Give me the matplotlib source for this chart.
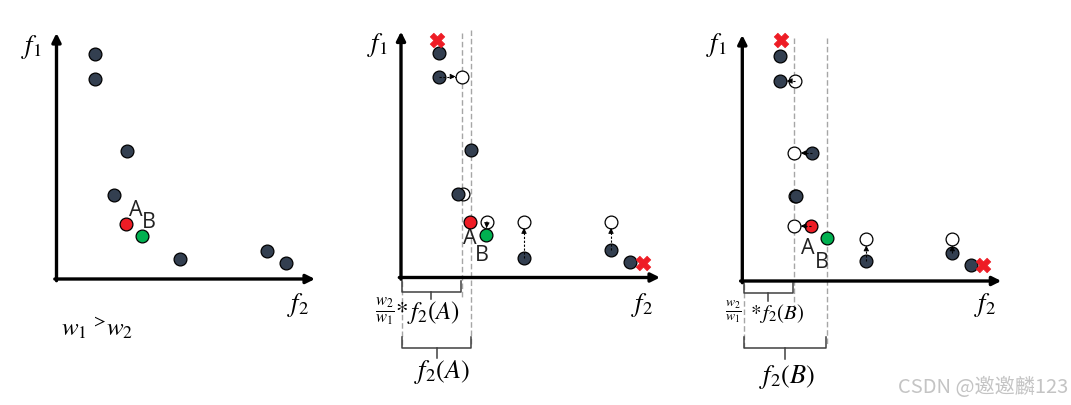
import matplotlib
matplotlib.use("Agg")
import matplotlib.pyplot as plt
import math

plt.rcParams['mathtext.fontset'] = 'stix'

W, H = 1071, 405
DARK = '#333F50'
RED = '#EE1C25'
GREEN = '#00B050'
GRAY = '#A6A6A6'

# ---------------- data (f2, f1) in diagram units ----------------
dark_f2 = [38, 38, 70, 57, 123, 210, 229]
dark_f1 = [225, 200, 128, 84, 20, 28, 16]
A_pt = (69, 55)
B_pt = (85, 43)

# panel 2 (A as reference)
p2_dark_f2 = [38, 38, 70, 57, 123, 210, 229]
p2_dark_f1 = [225, 201, 128, 84, 20, 28, 16]
p2_open_f2 = [61, 62, 86, 123, 210]
p2_open_f1 = [201, 84, 56, 56, 56]
p2_cross_f2 = [36, 242]
p2_cross_f1 = [238, 15]
p2_arrows = [((38, 201), (61, 201)), ((86, 56), (85, 43)),
             ((123, 20), (123, 56)), ((210, 28), (210, 56))]
p2_vlines = [61, 70]

# panel 3 (B as reference)
p3_dark_f2 = [38, 38, 70, 54, 124, 210, 229]
p3_dark_f1 = [225, 200, 128, 85, 20, 28, 16]
p3_open_f2 = [53, 52, 53, 52, 124, 210]
p3_open_f1 = [200, 128, 85, 55, 42, 42]
p3_cross_f2 = [39, 241]
p3_cross_f1 = [241, 16]
p3_arrows = [((53, 200), (38, 200)), ((70, 128), (52, 128)),
             ((69, 55), (52, 55)), ((124, 20), (124, 42)), ((210, 28), (210, 42))]
p3_vlines = [52, 84.5]

origins = [(56.5, 279), (401, 277.5), (742.3, 281)]

fig = plt.figure(figsize=(W / 100, H / 100), dpi=100)
fig.patch.set_facecolor('white')


def panel_axes(ox, oy):
    ax = fig.add_axes([0, 0, 1, 1])
    ax.set_xlim(-ox, W - ox)
    ax.set_ylim(-(H - oy), oy)
    ax.axis('off')
    ax.patch.set_alpha(0)
    return ax


def draw_axes(ax, xtip=259, ytip=246):
    ap = dict(arrowstyle='-|>', lw=2.4, color='black', mutation_scale=13,
              shrinkA=0, shrinkB=0)
    ax.annotate('', xy=(0, ytip), xytext=(0, -1.7), arrowprops=ap, zorder=5)
    ax.annotate('', xy=(xtip, 0), xytext=(-1.7, 0), arrowprops=ap, zorder=5)


MS = 85
R = 6.5


def dots(ax, f2, f1, color, z=6):
    ax.scatter(f2, f1, s=MS, c=color, edgecolors='black', linewidths=0.9, zorder=z)


def crosses(ax, f2, f1):
    ax.scatter(f2, f1, s=110, marker='X', c=RED, edgecolors=RED, linewidths=0.5, zorder=8)


def arrow(ax, s, e):
    dx, dy = e[0] - s[0], e[1] - s[1]
    L = math.hypot(dx, dy)
    ux, uy = dx / L, dy / L
    end = (e[0] - ux * R, e[1] - uy * R)
    ax.plot([s[0], end[0]], [s[1], end[1]], ls=(0, (2, 1.5)), color='black', lw=0.8, zorder=9)
    ax.annotate('', xy=end, xytext=(end[0] - ux * 3, end[1] - uy * 3),
                arrowprops=dict(arrowstyle='-|>', lw=0.6, color='black', mutation_scale=8,
                                shrinkA=0, shrinkB=0), zorder=9)


def bracket(ax, x0, x1, y, up, down, xm=None, color='#404040'):
    if xm is None:
        xm = (x0 + x1) / 2
    ax.plot([x0, x0, x1, x1], [y + up, y, y, y + up], color=color, lw=1.1, zorder=4)
    ax.plot([xm, xm], [y, y - down], color=color, lw=1.1, zorder=4)


def labels(ax, f1pos, f2pos):
    ax.text(*f1pos, r'$f_1$', fontsize=19, ha='center', va='center')
    ax.text(*f2pos, r'$f_2$', fontsize=19, ha='center', va='center')


def letter(ax, x, y, s):
    ax.text(x, y, s, fontsize=15.5, family='Open Sans', color='#222222',
            ha='center', va='center')


# ---------------- panel 1 ----------------
ax1 = panel_axes(*origins[0])
draw_axes(ax1, xtip=258.5)
dots(ax1, dark_f2, dark_f1, DARK)
dots(ax1, [A_pt[0]], [A_pt[1]], RED)
dots(ax1, [B_pt[0]], [B_pt[1]], GREEN)
labels(ax1, (-25, 232), (241.5, -26))
letter(ax1, 79, 68, 'A')
letter(ax1, 92.5, 56, 'B')
ax1.text(41, -49, r'$w_1\,{}^{>}\!w_2$', fontsize=18, ha='center', va='center')

# ---------------- panel 2 ----------------
ax2 = panel_axes(*origins[1])
draw_axes(ax2)
ax2.plot([p2_vlines[0]] * 2, [244.5, -19], ls=(0, (4, 2)), color=GRAY, lw=1, zorder=1)
ax2.plot([p2_vlines[1]] * 2, [247.5, -67.5], ls=(0, (4, 2)), color=GRAY, lw=1, zorder=1)
ax2.plot([1, 1], [-3, -68], ls=(0, (4, 2)), color=GRAY, lw=1, zorder=1)
dots(ax2, p2_open_f2, p2_open_f1, 'white', z=5)
dots(ax2, p2_dark_f2, p2_dark_f1, DARK)
dots(ax2, [A_pt[0]], [A_pt[1] + 1], RED)
dots(ax2, [B_pt[0]], [B_pt[1]], GREEN)
crosses(ax2, p2_cross_f2, p2_cross_f1)
for s, e in p2_arrows:
    arrow(ax2, s, e)
labels(ax2, (-24, 232.5), (241, -27.5))
letter(ax2, 69, 38.5, 'A')
letter(ax2, 81, 22, 'B')
bracket(ax2, 1, 60, -14, 11, 7.5, xm=30)
bracket(ax2, 1, 70, -70.5, 11, 10, xm=36)
ax2.text(-16, -34, r'$\frac{w_2}{w_1}$', fontsize=17, ha='center', va='center')
ax2.text(27, -35.5, r'$*\,f_2(A)$', fontsize=18, ha='center', va='center')
ax2.text(41, -94.5, r'$f_2(A)$', fontsize=19, ha='center', va='center')

# ---------------- panel 3 ----------------
ax3 = panel_axes(*origins[2])
draw_axes(ax3)
ax3.plot([p3_vlines[0]] * 2, [243, -29], ls=(0, (4, 2)), color=GRAY, lw=1, zorder=1)
ax3.plot([p3_vlines[1]] * 2, [243, -65], ls=(0, (4, 2)), color=GRAY, lw=1, zorder=1)
ax3.plot([2, 2], [-3, -67], ls=(0, (4, 2)), color=GRAY, lw=1, zorder=1)
dots(ax3, p3_open_f2, p3_open_f1, 'white', z=5)
dots(ax3, p3_dark_f2, p3_dark_f1, DARK)
dots(ax3, [A_pt[0]], [A_pt[1]], RED)
dots(ax3, [B_pt[0]], [B_pt[1]], GREEN)
crosses(ax3, p3_cross_f2, p3_cross_f1)
for s, e in p3_arrows:
    arrow(ax3, s, e)
labels(ax3, (-25.6, 236), (243, -24))
letter(ax3, 66, 32, 'A')
letter(ax3, 79.4, 18.7, 'B')
bracket(ax3, 2, 51, -12, 10, 8, xm=25.4)
bracket(ax3, 2, 84, -67.3, 11, 11, xm=42.7)
ax3.text(-9, -30.7, r'$\frac{w_2}{w_1}$', fontsize=14, ha='center', va='center')
ax3.text(35, -32.3, r'$*\,f_2(B)$', fontsize=15, ha='center', va='center')
ax3.text(44.4, -95.7, r'$f_2(B)$', fontsize=19, ha='center', va='center')

fig.text(1068 / W, 1 - 387 / H, 'CSDN @邀邀麟123', fontsize=14.5, color='#C4C4C4',
         ha='right', va='center', family=['Noto Sans CJK SC', 'DejaVu Sans'])

fig.savefig('out.png', dpi=100)
